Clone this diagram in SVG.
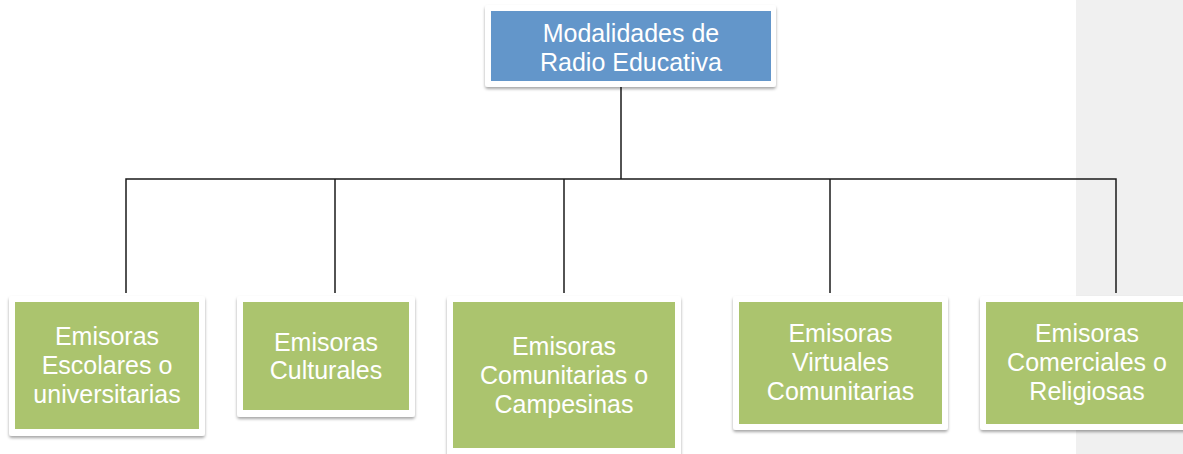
<svg xmlns="http://www.w3.org/2000/svg" width="1183" height="454" viewBox="0 0 1183 454">
<defs>
<filter id="sh" x="-10%" y="-10%" width="120%" height="130%">
<feDropShadow dx="0" dy="2" stdDeviation="1.8" flood-color="#000" flood-opacity="0.35"/>
</filter>
</defs>
<style>
.frame{fill:#ffffff;filter:url(#sh)}
.blue{fill:#6396ca}
.green{fill:#abc46e}
.t{font-family:"Liberation Sans",Arial,sans-serif;font-size:25px;fill:#ffffff;text-anchor:middle}
.c{fill:none;stroke:#1a1a1a;stroke-width:1.5}
</style>
<rect x="0" y="0" width="1183" height="454" fill="#ffffff"/>
<rect x="1076" y="0" width="107" height="454" fill="#f0f0f0"/>
<g id="connectors">
<path class="c" d="M621,87 V179"/>
<path class="c" d="M126,293 V179 H1116 V293"/>
<path class="c" d="M335,179 V293"/>
<path class="c" d="M564,179 V293"/>
<path class="c" d="M830,179 V293"/>
</g>
<g id="root">
<rect class="frame" x="485" y="5" width="291" height="82" rx="3"/>
<rect class="blue" x="491" y="11" width="280" height="70"/>
<text class="t" x="631" y="42">Modalidades de</text>
<text class="t" x="631" y="71">Radio Educativa</text>
</g>
<g id="n1">
<rect class="frame" x="9" y="296" width="196" height="140" rx="3"/>
<rect class="green" x="15" y="302" width="184" height="127"/>
<text class="t" x="107" y="345">Emisoras</text>
<text class="t" x="107" y="374">Escolares o</text>
<text class="t" x="107" y="403">universitarias</text>
</g>
<g id="n2">
<rect class="frame" x="237" y="296" width="178" height="121" rx="3"/>
<rect class="green" x="243" y="302" width="166" height="108"/>
<text class="t" x="326" y="351">Emisoras</text>
<text class="t" x="326" y="379">Culturales</text>
</g>
<g id="n3">
<rect class="frame" x="447" y="296" width="234" height="162" rx="3"/>
<rect class="green" x="453" y="302" width="222" height="146"/>
<text class="t" x="564" y="355">Emisoras</text>
<text class="t" x="564" y="384">Comunitarias o</text>
<text class="t" x="564" y="413">Campesinas</text>
</g>
<g id="n4">
<rect class="frame" x="733" y="296" width="215" height="134" rx="3"/>
<rect class="green" x="739" y="302" width="203" height="122"/>
<text class="t" x="840.5" y="342">Emisoras</text>
<text class="t" x="840.5" y="371">Virtuales</text>
<text class="t" x="840.5" y="400">Comunitarias</text>
</g>
<g id="n5">
<rect class="frame" x="980" y="296" width="214" height="134" rx="3"/>
<rect class="green" x="986" y="302" width="204" height="122"/>
<text class="t" x="1087" y="342">Emisoras</text>
<text class="t" x="1087" y="371">Comerciales o</text>
<text class="t" x="1087" y="400">Religiosas</text>
</g>
</svg>
